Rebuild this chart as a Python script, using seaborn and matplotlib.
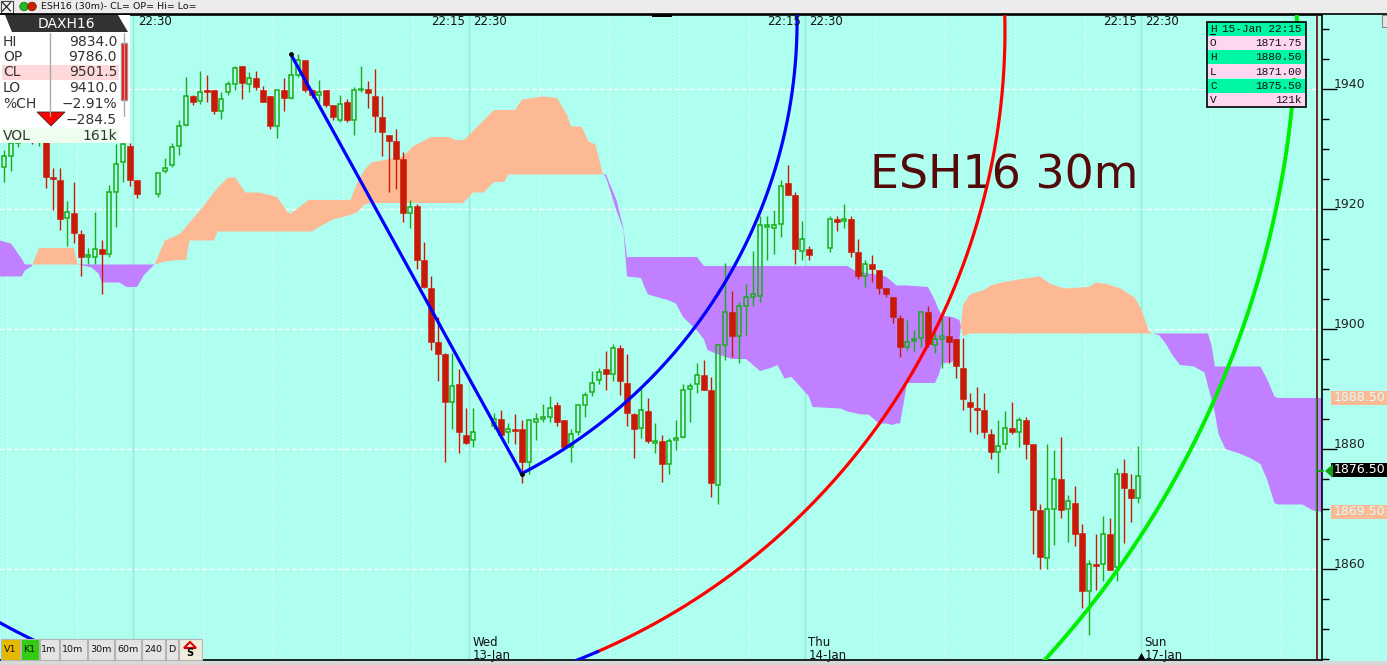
import numpy as np
import pandas as pd
import matplotlib
matplotlib.use("Agg")
import matplotlib.pyplot as plt
import matplotlib.transforms as mtransforms
from matplotlib.patches import Rectangle, Polygon, Circle
from matplotlib.ticker import MultipleLocator
import seaborn as sns

sns.set_style("white")
plt.rcParams['font.family'] = ['DejaVu Sans']

BG = '#aefff0'
UP = '#1aad1a'
DOWN = '#c91a08'
KUMO_UP = '#fdb894'
KUMO_DN = '#c080ff'

nan = np.nan

# ESH16 30-minute bars, one slot per bar position (nan = empty slot)
opens = [1927.0, 1928.75, 1931.0, 1933.5, 1933.0, 1931.5, 1932.75, 1925.25, 1924.75, 1918.5,
         1919.25, 1915.75, 1912.0, 1912.0, 1913.25, 1912.5, 1922.75, 1927.75, 1930.5, 1924.75,
         nan, nan, 1922.5, 1926.25, 1927.25, 1930.5, 1934.0, 1938.75, 1938.0, 1939.75,
         1939.75, 1936.25, 1939.5, 1940.75, 1943.75, 1940.75, 1941.75, 1939.75, 1938.75, 1933.75,
         1939.75, 1938.5, 1942.25, 1944.75, 1939.75, 1939.0, 1939.75, 1937.25, 1934.75, 1937.75,
         1934.75, 1939.75, 1940.0, 1938.75, 1935.25, 1932.25, 1931.25, 1928.25, 1919.25, 1920.5,
         1911.5, 1906.75, 1897.75, 1895.75, 1887.75, 1890.75, 1882.25, 1881.5, nan, nan,
         1883.75, 1885.0, 1882.75, 1883.25, 1883.25, 1877.75, 1884.5, 1885.0, 1885.25, 1887.25,
         1884.75, 1880.25, 1882.75, 1887.25, 1889.5, 1891.5, 1893.25, 1892.5, 1896.75, 1891.0,
         1885.75, 1883.5, 1886.25, 1881.0, 1881.25, 1877.5, 1881.5, 1882.0, 1890.0, 1890.75,
         1892.25, 1889.75, 1874.0, 1897.25, 1902.75, 1898.75, 1903.75, 1905.25, 1905.5, 1917.0,
         1916.75, 1917.5, 1924.25, 1922.25, 1913.0, 1913.25, nan, nan, 1913.5, 1918.25,
         1918.0, 1918.25, 1912.75, 1908.75, 1910.75, 1909.75, 1906.75, 1905.25, 1901.75, 1897.0,
         1898.0, 1898.5, 1902.75, 1897.25, 1898.25, 1898.75, 1898.25, 1893.5, 1887.75, 1886.75,
         1886.5, 1882.5, 1879.5, 1880.75, 1883.5, 1882.75, 1884.75, 1880.75, 1869.75, 1861.75,
         1870.0, 1875.0, 1870.0, 1871.0, 1866.0, 1856.25, 1860.75, 1860.75, 1865.75, 1860.25,
         1876.0, 1873.25, 1871.75]
highs = [1929.75, 1932.5, 1934.5, 1935.0, 1934.5, 1933.75, 1934.5, 1926.75, 1926.75, 1921.25,
         1924.5, 1916.5, 1913.5, 1919.5, 1914.75, 1924.0, 1930.75, 1931.0, 1931.0, 1924.75,
         nan, nan, 1926.0, 1928.5, 1931.0, 1934.75, 1942.0, 1939.0, 1943.0, 1942.25,
         1939.75, 1939.5, 1941.25, 1943.75, 1943.75, 1942.75, 1943.0, 1940.5, 1938.75, 1939.75,
         1941.75, 1946.0, 1945.75, 1944.75, 1940.0, 1941.5, 1939.75, 1937.25, 1939.0, 1938.25,
         1940.25, 1943.75, 1941.25, 1943.25, 1938.75, 1932.25, 1933.25, 1929.5, 1921.5, 1920.75,
         1914.5, 1908.75, 1902.0, 1896.0, 1896.0, 1893.25, 1886.75, 1886.75, nan, nan,
         1886.0, 1886.5, 1884.25, 1885.75, 1884.75, 1884.75, 1886.0, 1887.5, 1888.75, 1887.75,
         1884.75, 1883.25, 1887.25, 1889.5, 1893.0, 1893.5, 1896.25, 1897.5, 1897.25, 1895.75,
         1886.0, 1890.0, 1888.5, 1884.25, 1882.25, 1881.75, 1884.75, 1890.75, 1891.0, 1894.25,
         1894.75, 1892.0, 1897.5, 1911.0, 1906.25, 1904.5, 1907.5, 1913.0, 1918.75, 1918.75,
         1919.75, 1924.75, 1927.25, 1922.75, 1918.0, 1913.75, nan, nan, 1918.75, 1918.75,
         1920.75, 1918.75, 1915.0, 1911.5, 1912.25, 1909.75, 1906.75, 1905.25, 1902.25, 1901.5,
         1899.75, 1902.75, 1903.75, 1899.25, 1901.75, 1902.0, 1898.25, 1898.5, 1889.25, 1890.25,
         1889.25, 1883.25, 1884.75, 1886.25, 1887.75, 1885.25, 1885.25, 1880.75, 1870.75, 1880.75,
         1879.75, 1882.0, 1872.25, 1873.75, 1867.5, 1861.5, 1865.75, 1868.75, 1868.5, 1876.75,
         1878.25, 1875.75, 1880.5]
lows = [1924.5, 1926.25, 1930.25, 1931.5, 1930.75, 1930.5, 1923.5, 1919.75, 1916.5, 1913.75,
        1914.25, 1908.75, 1910.75, 1910.75, 1905.75, 1912.0, 1917.0, 1924.5, 1923.75, 1921.75,
        nan, nan, 1922.0, 1926.0, 1927.0, 1929.0, 1933.75, 1937.25, 1937.5, 1937.75,
        1935.75, 1935.0, 1939.0, 1939.75, 1938.25, 1939.5, 1939.75, 1937.75, 1933.25, 1931.75,
        1936.25, 1938.25, 1942.0, 1939.5, 1938.5, 1937.75, 1937.0, 1934.75, 1934.5, 1934.5,
        1932.25, 1939.5, 1936.75, 1932.75, 1928.75, 1922.75, 1923.25, 1917.75, 1916.75, 1910.0,
        1906.75, 1896.5, 1891.25, 1877.75, 1883.25, 1879.25, 1880.75, 1880.25, nan, nan,
        1883.25, 1882.25, 1881.0, 1880.75, 1874.25, 1875.75, 1881.5, 1884.5, 1884.5, 1883.75,
        1880.0, 1877.75, 1882.25, 1885.25, 1888.75, 1890.75, 1889.75, 1891.25, 1889.0, 1883.75,
        1878.5, 1881.75, 1881.0, 1879.25, 1874.5, 1875.75, 1879.75, 1881.75, 1884.5, 1889.25,
        1889.75, 1872.0, 1870.75, 1894.75, 1895.25, 1894.25, 1899.0, 1903.75, 1904.5, 1911.5,
        1912.5, 1915.25, 1922.25, 1910.75, 1911.5, 1911.5, nan, nan, 1912.75, 1916.25,
        1916.75, 1912.0, 1908.25, 1907.0, 1907.75, 1905.75, 1905.25, 1901.0, 1895.25, 1896.5,
        1896.25, 1897.0, 1897.0, 1896.0, 1893.5, 1894.25, 1891.75, 1886.5, 1882.75, 1882.5,
        1881.75, 1878.25, 1876.0, 1880.0, 1882.5, 1880.25, 1878.25, 1862.5, 1860.0, 1860.0,
        1864.0, 1868.5, 1864.5, 1863.75, 1853.5, 1849.0, 1856.5, 1858.0, 1859.75, 1858.0,
        1864.25, 1867.75, 1871.0]
closes = [1928.75, 1931.0, 1933.5, 1932.5, 1931.5, 1932.75, 1925.25, 1925.0, 1918.25, 1919.5,
          1916.0, 1912.0, 1912.25, 1913.25, 1912.5, 1922.75, 1927.5, 1930.75, 1924.75, 1922.5,
          nan, nan, 1926.0, 1926.75, 1930.25, 1933.75, 1938.75, 1937.75, 1939.5, 1939.5,
          1936.25, 1938.25, 1940.75, 1943.5, 1941.0, 1941.75, 1940.25, 1937.75, 1933.75, 1939.75,
          1938.5, 1942.25, 1944.75, 1939.75, 1939.0, 1939.5, 1937.25, 1935.25, 1937.5, 1934.75,
          1939.75, 1940.0, 1939.25, 1935.5, 1932.75, 1931.25, 1928.25, 1919.25, 1920.25, 1911.5,
          1907.0, 1897.75, 1895.75, 1887.75, 1890.5, 1882.75, 1881.0, 1882.75, nan, nan,
          1885.0, 1882.25, 1883.25, 1883.0, 1877.75, 1884.75, 1885.0, 1885.25, 1886.75, 1884.5,
          1880.25, 1882.5, 1887.25, 1889.0, 1891.0, 1892.75, 1892.5, 1896.75, 1891.25, 1886.0,
          1883.25, 1886.5, 1881.25, 1881.25, 1877.5, 1881.25, 1881.75, 1889.75, 1890.5, 1892.25,
          1889.75, 1874.25, 1897.25, 1902.75, 1898.75, 1903.75, 1905.25, 1905.75, 1917.25, 1917.25,
          1917.25, 1923.75, 1922.25, 1913.25, 1915.0, 1912.25, nan, nan, 1918.25, 1917.75,
          1918.25, 1912.75, 1908.75, 1910.75, 1910.0, 1906.75, 1905.75, 1902.0, 1897.0, 1897.75,
          1898.25, 1902.75, 1897.5, 1898.25, 1898.75, 1897.75, 1893.75, 1888.25, 1887.0, 1886.5,
          1882.75, 1879.5, 1880.5, 1883.5, 1882.75, 1884.75, 1880.75, 1869.75, 1862.0, 1870.0,
          1875.0, 1869.75, 1871.25, 1865.75, 1856.25, 1860.75, 1860.5, 1865.75, 1859.75, 1875.75,
          1873.5, 1871.75, 1875.5]

# Ichimoku cloud (senkou spans, shifted forward), read at break points
cloud_bar = [-0.6, 1, 2.5, 3, 4, 5, 10, 10.5, 12.5, 13.5, 14, 16.5, 17.5, 19, 20, 21.5, 23, 25, 26,
             26.5, 28, 30, 30.5, 32, 33, 34.5, 36.5, 39, 40.5, 41, 43.5, 44, 45, 47, 49.5, 50.5,
             51.5, 52.5, 57, 58.5, 61, 63.5, 64.5, 65.5, 66, 67, 68.5, 70, 71.5, 72, 73, 74, 77,
             79, 80.5, 81, 82.5, 83.5, 84.5, 85.5, 86, 87.5, 88.5, 89, 91, 91.5, 92, 95, 96, 97,
             99, 100, 100.5, 102, 104, 106, 108, 109.5, 110.5, 111.5, 112.5, 115, 115.5, 119.5,
             120.5, 121.5, 122.5, 123.5, 125, 126, 127, 127.5, 128, 128.5, 129, 132, 133, 133.5,
             134, 135.5, 136.5, 137, 138, 140, 141, 142.5, 145, 148, 149.5, 151.5, 155, 156,
             157.5, 159.5, 161.5, 162.5, 163.5, 164, 165, 166, 167, 168, 170, 171.5, 172, 172.5,
             173, 173.5, 174.5, 176.5, 178, 179.5, 180.5, 181.5, 182, 185.5, 187, 188.3]
span_a = [1908.75, 1908.75, 1908.75, 1909.75, 1910.5, 1913.5, 1913.5, 1910.75, 1910.25, 1909.25,
          1907.75, 1907.75, 1907.0, 1907.0, 1909.0, 1910.75, 1914.75, 1915.75, 1917.0, 1917.75,
          1919.75, 1922.75, 1923.5, 1925.25, 1925.25, 1922.75, 1922.75, 1922.0, 1919.5, 1919.25,
          1921.5, 1921.5, 1921.5, 1921.5, 1921.5, 1924.5, 1926.5, 1927.75, 1928.75, 1930.5,
          1932.0, 1932.0, 1931.5, 1931.5, 1931.75, 1933.0, 1934.75, 1936.5, 1936.5, 1936.5,
          1936.5, 1938.25, 1938.75, 1938.5, 1935.5, 1933.75, 1933.75, 1931.25, 1930.75, 1926.0,
          1925.25, 1919.75, 1916.5, 1908.75, 1908.5, 1907.0, 1905.75, 1904.75, 1904.25, 1902.0,
          1899.75, 1898.25, 1896.5, 1895.75, 1895.0, 1895.0, 1893.0, 1893.5, 1894.0, 1891.75,
          1892.0, 1888.75, 1887.0, 1886.75, 1886.25, 1886.0, 1885.75, 1885.75, 1884.25, 1884.25,
          1884.0, 1884.25, 1884.25, 1887.5, 1891.0, 1891.0, 1891.0, 1892.25, 1894.25, 1894.5,
          1898.25, 1904.0, 1905.75, 1906.5, 1907.25, 1907.75, 1908.25, 1908.75, 1907.5, 1906.75,
          1907.0, 1907.75, 1907.5, 1906.75, 1905.25, 1903.25, 1899.75, 1899.25, 1899.0, 1897.5,
          1895.5, 1894.0, 1893.75, 1892.75, 1890.5, 1888.25, 1886.0, 1882.5, 1880.0, 1879.25,
          1878.5, 1877.5, 1874.75, 1871.0, 1870.75, 1870.75, 1869.75, 1869.5]
span_b = [1914.75, 1914.25, 1911.75, 1910.75, 1910.75, 1910.75, 1910.75, 1910.75, 1910.75, 1910.75,
          1910.75, 1910.75, 1910.75, 1910.75, 1910.75, 1910.75, 1911.25, 1911.5, 1911.5, 1914.75,
          1914.75, 1914.75, 1916.25, 1916.25, 1916.25, 1916.25, 1916.25, 1916.25, 1916.25, 1916.25,
          1916.25, 1916.25, 1917.0, 1918.25, 1919.0, 1919.5, 1920.75, 1921.0, 1921.0, 1921.0,
          1921.0, 1921.0, 1921.0, 1921.0, 1921.5, 1922.75, 1922.75, 1924.5, 1924.5, 1925.75,
          1925.75, 1925.75, 1925.75, 1925.75, 1925.75, 1925.75, 1925.75, 1925.75, 1925.75, 1925.75,
          1925.75, 1921.5, 1916.75, 1912.0, 1912.0, 1912.0, 1912.0, 1912.0, 1912.0, 1912.0,
          1912.0, 1910.5, 1910.5, 1910.5, 1910.5, 1910.5, 1910.5, 1910.5, 1910.5, 1910.5,
          1910.5, 1910.5, 1910.5, 1910.5, 1910.5, 1909.75, 1909.5, 1909.25, 1909.0, 1908.75,
          1907.75, 1907.25, 1907.25, 1907.25, 1907.25, 1907.0, 1904.75, 1903.25, 1902.25, 1902.0,
          1901.5, 1898.75, 1899.25, 1899.25, 1899.25, 1899.25, 1899.25, 1899.25, 1899.25, 1899.25,
          1899.25, 1899.25, 1899.25, 1899.25, 1899.25, 1899.25, 1899.25, 1899.25, 1899.25, 1899.25,
          1899.25, 1899.25, 1899.25, 1899.25, 1899.25, 1897.25, 1893.75, 1893.75, 1893.75, 1893.75,
          1893.75, 1893.75, 1891.5, 1888.75, 1888.5, 1888.5, 1888.5, 1888.5]

price_grid = [1860, 1880, 1900, 1920, 1940]
session_starts = [18.5, 66.5, 114.5, 162.5]
time_grid = [0.5, 10.5, 28.5, 38.5, 48.5, 58.5, 76.5, 86.5, 96.5, 106.5,
             124.5, 134.5, 144.5, 154.5, 172.5, 182.5]
day_labels = [("Wed", "13-Jan"), ("Thu", "14-Jan"), ("Sun", "17-Jan")]

# drawing-tool anchors
swing_bars = [41, 74]
swing_prices = [1945.75, 1875.75]

W, H = 1387, 665
fig = plt.figure(figsize=(W / 100, H / 100), dpi=100, facecolor=BG)
ax = fig.add_axes([0, 5 / H, 1322 / W, 645 / H])
ax.set_facecolor(BG)
ov = fig.add_axes([0, 0, 1, 1], zorder=10)
ov.set_xlim(0, W)
ov.set_ylim(H, 0)
ov.axis('off')
px = ov.transData
px_price = mtransforms.blended_transform_factory(ov.transData, ax.transData)

# grid
ax.hlines(price_grid, -1, 190, colors='white', lw=0.9, linestyles=(0, (4, 2)), zorder=1)
ax.vlines(time_grid, 1840, 1960, colors='white', lw=0.8, linestyles=(0, (1, 2)), zorder=1)
ax.vlines(session_starts, 1840, 1960, colors='#97e6da', lw=1.0, zorder=1)

# cloud
kumo = pd.DataFrame({'bar': cloud_bar, 'a': span_a, 'b': span_b})
ax.fill_between(kumo['bar'], kumo['a'], kumo['b'], where=kumo['a'] >= kumo['b'],
                interpolate=True, color=KUMO_UP, lw=0, zorder=2)
ax.fill_between(kumo['bar'], kumo['a'], kumo['b'], where=kumo['a'] < kumo['b'],
                interpolate=True, color=KUMO_DN, lw=0, zorder=2)

# candles
candles = pd.DataFrame({'bar': np.arange(len(opens)), 'open': opens, 'high': highs,
                        'low': lows, 'close': closes}).dropna()
rising = candles[candles['close'] >= candles['open']]
falling = candles[candles['close'] < candles['open']]
ax.vlines(rising['bar'], rising['low'], rising['open'], color=UP, lw=1.0, zorder=4)
ax.vlines(rising['bar'], rising['close'], rising['high'], color=UP, lw=1.0, zorder=4)
ax.bar(rising['bar'], rising['close'] - rising['open'], bottom=rising['open'], width=0.64,
       facecolor='none', edgecolor=UP, linewidth=1.1, zorder=5)
ax.vlines(falling['bar'], falling['low'], falling['high'], color=DOWN, lw=1.0, zorder=4)
ax.bar(falling['bar'], falling['open'] - falling['close'], bottom=falling['close'], width=0.76,
       color=DOWN, edgecolor=DOWN, linewidth=0.4, zorder=5)

# big symbol watermark (below the drawings)
ax.text(870, 188.5, "ESH16 30m", transform=px, fontsize=33, color='#540a0a',
        ha='left', va='baseline', zorder=3)


def arc(cb, cp, rx, ry, t0, t1):
    t = np.radians(np.linspace(t0, t1, 300))
    return pd.DataFrame({'bar': cb + rx * np.cos(t), 'price': cp - ry * np.sin(t)})


sns.lineplot(data=arc(46.3, 1949.7, 96.7, 112.8, 66.7, -4), x='bar', y='price', sort=False,
             estimator=None, color='#ff0000', lw=2.3, ax=ax, zorder=6)
sns.lineplot(data=arc(46.3, 1949.7, 96.7, 112.8, 72, 66.5), x='bar', y='price', sort=False,
             estimator=None, color='#0000ff', lw=2.3, ax=ax, zorder=6)
sns.lineplot(data=arc(46.3, 1949.7, 96.7, 112.8, 108, 125), x='bar', y='price', sort=False,
             estimator=None, color='#0000ff', lw=2.3, ax=ax, zorder=6)
sns.lineplot(data=arc(40.5, 1951.3, 72.8, 84.9, 62.7, -4), x='bar', y='price', sort=False,
             estimator=None, color='#0000ff', lw=2.3, ax=ax, zorder=6)
sns.lineplot(data=arc(46.7, 1953.3, 138.0, 161.0, 46, -3), x='bar', y='price', sort=False,
             estimator=None, color='#00ee00', lw=2.8, ax=ax, zorder=6)
sns.lineplot(x=swing_bars, y=swing_prices, color='#0000ff', lw=2.3, ax=ax, zorder=7)
ax.scatter(swing_bars, swing_prices, s=6, color='black', zorder=8)

ax.vlines(187.57, 1840, 1960, colors='#700000', lw=1.2, zorder=6)
ax.vlines(187.5, span_a[-1], span_b[-1], colors='#10a010', lw=1.0, zorder=7)

ax.set_xlim(-0.57, 188.29)
ax.set_ylim(1844.83, 1952.33)
ax.set_xlabel('')
ax.set_ylabel('')
ax.set_xticks([])
ax.yaxis.tick_right()
ax.yaxis.set_major_locator(MultipleLocator(20))
ax.yaxis.set_minor_locator(MultipleLocator(5))
ax.tick_params(axis='y', which='major', length=11, width=1, color='black', direction='out',
               labelright=False, right=True, left=False)
ax.tick_params(axis='y', which='minor', length=5, width=1, color='black', direction='out',
               right=True, left=False)
for s in ['top', 'bottom', 'right']:
    ax.spines[s].set_visible(True)
    ax.spines[s].set_color('black')
    ax.spines[s].set_linewidth(1.2)
ax.spines['left'].set_visible(False)

for v in price_grid:
    ov.text(1334, v + 0.15, str(v), transform=px_price, fontsize=9, color='#222222',
            ha='left', va='baseline')

# last price / cloud tags on the price axis
for v, fc, tc in [(1888.5, KUMO_UP, '#d8ffff'), (1869.5, KUMO_UP, '#d8ffff'), (1876.5, 'black', 'white')]:
    ov.add_patch(Rectangle((1331, v - 1.2), 56, 2.4, transform=px_price, fc=fc, ec='none'))
    ov.text(1334, v, f"{v:.2f}", transform=px_price, fontsize=9, color=tc, ha='left', va='center')
ov.add_patch(Polygon([(1325, 471), (1333, 464), (1333, 478)], closed=True, fc='#10a010', ec='none'))
ov.plot([1318, 1323], [471, 471], color='#10a010', lw=1.5)

# session time labels at the top
ov.text(138, 21.5, "22:30", fontsize=8.5, color='#111111', ha='left', va='center')
for xs in [469.5, 805.5, 1141.5]:
    ov.text(xs - 4, 21.5, "22:15", fontsize=8.5, color='#111111', ha='right', va='center')
    ov.text(xs + 4, 21.5, "22:30", fontsize=8.5, color='#111111', ha='left', va='center')
ov.add_patch(Rectangle((652, 14), 20, 2.5, fc='black', ec='none'))

# day labels at the bottom
for xs, (d1, d2) in zip([469.5, 805.5, 1141.5], day_labels):
    ov.text(xs + 3, 643, d1, fontsize=8.5, color='#111111', ha='left', va='center')
    ov.text(xs + 3, 655, d2, fontsize=8.5, color='#111111', ha='left', va='center')
ov.add_patch(Polygon([(1137.5, 660), (1141.5, 653), (1145.5, 660)], closed=True, fc='black', ec='none'))

# title strip
ov.add_patch(Rectangle((0, 0), W, 14, fc='#ececec', ec='none'))
ov.plot([0, W], [14.3, 14.3], color='black', lw=1.2)
ov.add_patch(Rectangle((0.5, 0.5), 12, 12.5, fc='#f6f6f6', ec='#444444', lw=0.8))
ov.plot([2.5, 10.5], [2.5, 11], color='#222222', lw=0.9)
ov.plot([2.5, 10.5], [11, 2.5], color='#222222', lw=0.9)
ov.add_patch(Circle((24, 6.5), 4.3, fc='#22b822', ec='#117711', lw=0.5))
ov.add_patch(Circle((32, 6.5), 4.3, fc='#cc2200', ec='#771100', lw=0.5))
ov.text(41, 7, "ESH16 (30m)- CL= OP= Hi= Lo=", fontsize=6.8, color='#111111', ha='left', va='center')
ov.add_patch(Rectangle((1382, 15), 6, 12, fc='#e6e6e6', ec='#888888', lw=0.8))

# DAX quote panel
ov.add_patch(Rectangle((0, 15), 130, 128, fc='white', ec='none'))
ov.add_patch(Polygon([(5, 15), (118, 15), (128, 32), (12, 32)], closed=True, fc='#333333', ec='none'))
ov.text(66, 24, "DAXH16", fontsize=10, color='white', ha='center', va='center')
ov.add_patch(Rectangle((2, 65), 117, 15, fc='#ffd9d9', ec='none'))
ov.add_patch(Rectangle((2, 128), 117, 15, fc='#eefeee', ec='none'))
ov.plot([50, 50], [33, 116], color='#aaaaaa', lw=1)
ov.plot([124, 124], [33, 116], color='#aaaaaa', lw=1)
ov.add_patch(Rectangle((121, 43), 6, 57, fc='#ff0000', ec='#999999', lw=1))
ov.add_patch(Polygon([(37, 112), (65, 112), (51, 126)], closed=True, fc='#ff0000', ec='#333333', lw=0.6))
dax_rows = [("HI", "9834.0", 42), ("OP", "9786.0", 57), ("CL", "9501.5", 72.5), ("LO", "9410.0", 88),
            ("%CH", "\u22122.91%", 104), ("", "\u2212284.5", 120), ("VOL", "161k", 136)]
for lab, val, y in dax_rows:
    ov.text(3, y, lab, fontsize=10, color='#333333', ha='left', va='center')
    ov.text(117, y, val, fontsize=10, color='#333333', ha='right', va='center')

# bar info box
rows = [("H", "15-Jan 22:15"), ("O", "1871.75"), ("H", "1880.50"),
        ("L", "1871.00"), ("C", "1875.50"), ("V", "121k")]
for k, (lab, val) in enumerate(rows):
    y0 = 21.7 + 14.2 * k
    ov.add_patch(Rectangle((1206.5, y0), 99, 14.2, fc='#00f7a4' if k % 2 == 0 else '#ffd6f2', ec='none'))
    ov.text(1210, y0 + 7.4, lab, fontsize=8, family='Liberation Mono', color='#111111', ha='left', va='center')
    ov.text(1302, y0 + 7.4, val, fontsize=8, family='Liberation Mono', color='#111111', ha='right', va='center')
ov.plot([1210, 1215], [33.5, 33.5], color='#111111', lw=0.8)
ov.add_patch(Rectangle((1206.5, 21.7), 99, 14.2 * 6, fc='none', ec='black', lw=1.2))

# interval toolbar
buttons = [(0, 20, "V1", '#e6b800'), (20, 39, "K1", '#33cc11'), (39, 59, "1m", '#e4e4e4'),
           (59, 87, "10m", '#e4e4e4'), (87, 114, "30m", '#e4e4e4'), (114, 141, "60m", '#e4e4e4'),
           (141, 165, "240", '#e4e4e4'), (165, 178, "D", '#e4e4e4'), (178, 202, "", '#f2ecdc')]
for x0, x1, lab, c in buttons:
    ov.add_patch(Rectangle((x0 + 0.5, 639), x1 - x0 - 1, 21, fc=c, ec='#b4b4b4', lw=0.8))
    if lab:
        ov.text((x0 + x1) / 2, 650, lab, fontsize=6.8, color='#111111', ha='center', va='center')
ov.add_patch(Polygon([(184, 648), (190, 642), (196, 648)], closed=True, fc='none', ec='#dd0000', lw=1.5))
ov.text(190, 653.5, "S", fontsize=7, fontweight='bold', color='black', ha='center', va='center')
ov.add_patch(Rectangle((0, 661), W, 4, fc='#d8d8d8', ec='none'))

fig.savefig("out.png", dpi=100, facecolor=BG)
